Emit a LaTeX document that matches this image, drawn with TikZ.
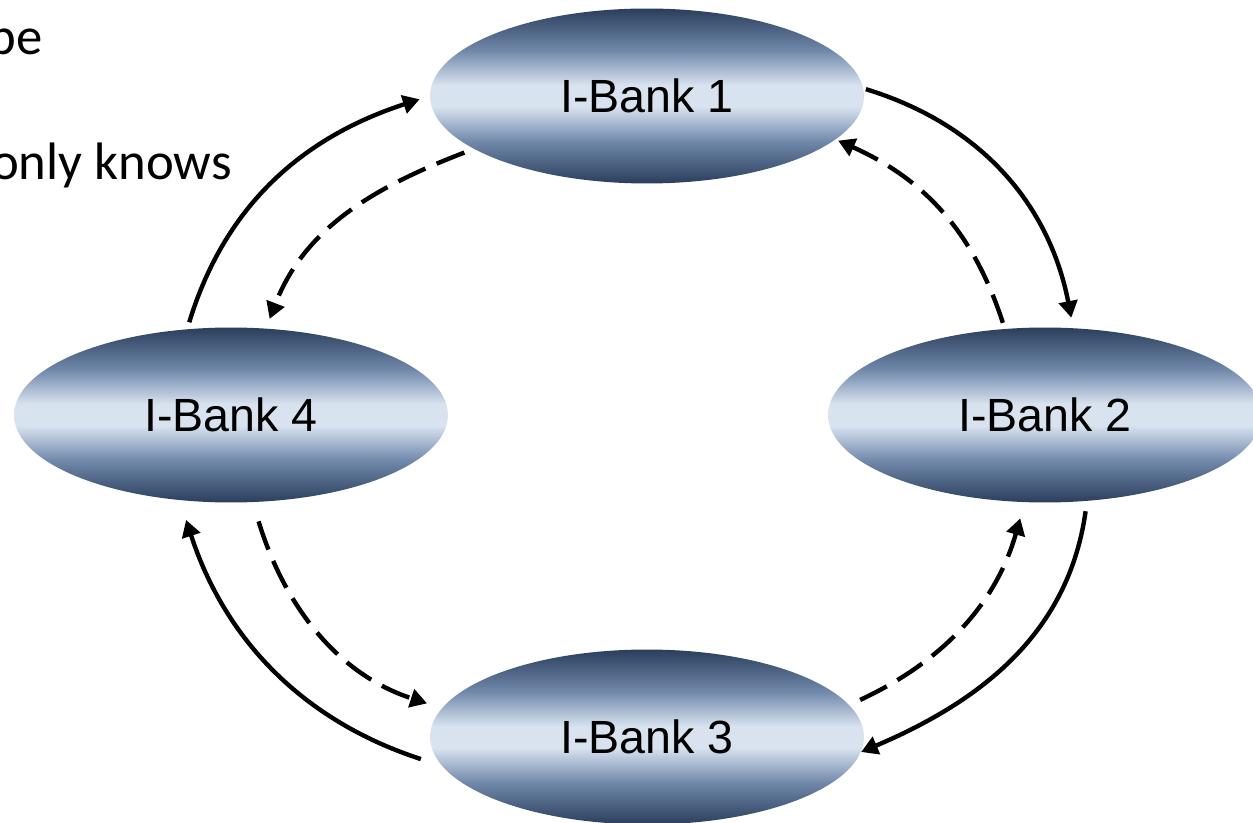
\documentclass[tikz,border=0pt]{standalone}
\usepackage{fontspec}
\setmainfont{Liberation Sans}
\newfontfamily\notefont{Carlito}
\usetikzlibrary{arrows.meta}
\usetikzlibrary{shapes.geometric}

\definecolor{bankdark}{RGB}{43,62,92}
\definecolor{bankmid}{RGB}{112,136,170}
\definecolor{banklight}{RGB}{217,227,240}
\pgfdeclareverticalshading{bankfill}{100bp}{color(0bp)=(bankdark); color(25bp)=(bankdark); color(37bp)=(bankmid); color(47bp)=(banklight); color(53bp)=(banklight); color(63bp)=(bankmid); color(75bp)=(bankdark); color(100bp)=(bankdark)}

\begin{document}
\begin{tikzpicture}[x=0.02cm, y=0.02cm,
    bank/.style={ellipse, shading=bankfill, minimum width=8.68cm, minimum height=3.5cm, inner sep=0pt, font=\fontsize{26.5}{32}\selectfont},
    note/.style={anchor=base east, inner sep=0pt, font=\notefont\fontsize{30}{36}\selectfont},
    flow/.style={line width=2.5pt, -{Triangle[length=9.5pt,width=10.5pt]}},
    backflow/.style={flow, dash pattern=on 17pt off 7pt}]
    \useasboundingbox (0,0) rectangle (1253,822);
    \clip (0,0) rectangle (1253,822);

    \node[note] (noteA) at (43,767) {pe};
    \node[note] (noteB) at (232,642) {only knows};

    \node[bank] (bank1) at (647,726) {I-Bank 1};
    \node[bank] (bank2) at (1045,407) {I-Bank 2};
    \node[bank] (bank3) at (647,85) {I-Bank 3};
    \node[bank] (bank4) at (231,407) {I-Bank 4};

\draw[flow, shorten <=4pt, shorten >=6pt] (bank4.117) to[out=73, in=198] (bank1.180);
\draw[flow, shorten <=1.4pt, shorten >=5.9pt] (bank1.2) to[out=-17, in=101] (bank2.72);
\draw[flow, shorten <=5.8pt] (bank2.-64) to[out=-98, in=23] (bank3.-4);
\draw[flow, shorten <=12.5pt, shorten >=11.7pt] (bank3.188) to[out=162, in=-72] (bank4.239);

\draw[backflow, shorten <=5.7pt, shorten >=5.7pt] (bank1.197) to[out=201, in=69] (bank4.68);
\draw[backflow, shorten <=3.5pt, shorten >=1.5pt] (bank2.115) to[out=108, in=-24] (bank1.-13);
\draw[backflow, shorten <=6.8pt, shorten >=9.4pt] (bank3.9) to[out=25, in=-106] (bank2.257);
\draw[backflow, shorten <=11.3pt, shorten >=8.8pt] (bank4.-76) to[out=-73, in=162] (bank3.172);

\end{tikzpicture}
\end{document}
